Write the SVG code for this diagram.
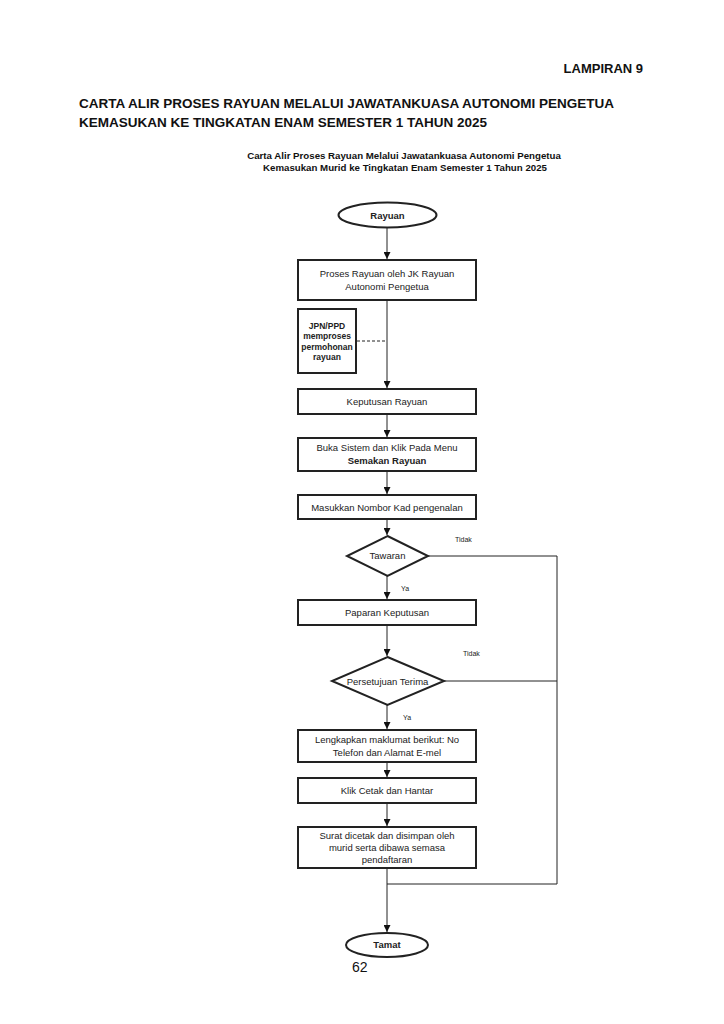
<svg xmlns="http://www.w3.org/2000/svg" width="724" height="1024" viewBox="0 0 724 1024">
<defs>
<marker id="arr" viewBox="0 0 10 10" refX="10" refY="5" markerWidth="7" markerHeight="7" orient="auto" markerUnits="userSpaceOnUse">
<path d="M0,0 L10,5 L0,10 z" fill="#111"/>
</marker>
<style>
.hd{font-family:"Liberation Sans",Arial,sans-serif;font-weight:bold;fill:#111;}
.t{font-family:"Liberation Sans",Arial,sans-serif;font-size:9.5px;fill:#222;text-anchor:middle;}
.s{font-size:8.5px;font-weight:bold;}
.b{font-weight:bold;}
.box{fill:#fff;stroke:#222;stroke-width:2;}
.c{fill:none;stroke:#222;stroke-width:1;}
.lbl{font-family:"Liberation Sans",Arial,sans-serif;font-size:7px;fill:#222;}
</style>
</defs>
<rect width="724" height="1024" fill="#fff"/>
<text class="hd" x="643" y="73" font-size="13" text-anchor="end">LAMPIRAN 9</text>
<text class="hd" x="79" y="108" font-size="13.5">CARTA ALIR PROSES RAYUAN MELALUI JAWATANKUASA AUTONOMI PENGETUA</text>
<text class="hd" x="79" y="127" font-size="13.5">KEMASUKAN KE TINGKATAN ENAM SEMESTER 1 TAHUN 2025</text>
<text class="hd" x="404" y="159" font-size="9.7" text-anchor="middle">Carta Alir Proses Rayuan Melalui Jawatankuasa Autonomi Pengetua</text>
<text class="hd" x="405" y="171" font-size="9.7" text-anchor="middle">Kemasukan Murid ke Tingkatan Enam Semester 1 Tahun 2025</text>

<g id="connectors">
<line class="c" x1="387" y1="227" x2="387" y2="259" marker-end="url(#arr)"/>
<line class="c" x1="387" y1="301" x2="387" y2="388" marker-end="url(#arr)"/>
<line class="c" x1="357" y1="341" x2="387" y2="341" stroke-dasharray="3,2"/>
<line class="c" x1="387" y1="414" x2="387" y2="437" marker-end="url(#arr)"/>
<line class="c" x1="387" y1="471" x2="387" y2="494" marker-end="url(#arr)"/>
<line class="c" x1="387" y1="519" x2="387" y2="535" marker-end="url(#arr)"/>
<line class="c" x1="387" y1="576" x2="387" y2="599" marker-end="url(#arr)"/>
<line class="c" x1="387" y1="625" x2="387" y2="656" marker-end="url(#arr)"/>
<line class="c" x1="387" y1="705" x2="387" y2="729" marker-end="url(#arr)"/>
<line class="c" x1="387" y1="762" x2="387" y2="777" marker-end="url(#arr)"/>
<line class="c" x1="387" y1="803" x2="387" y2="826" marker-end="url(#arr)"/>
<line class="c" x1="387" y1="868" x2="387" y2="932" marker-end="url(#arr)"/>
<polyline class="c" points="428,556 557,556 557,884 387,884"/>
<line class="c" x1="444" y1="681" x2="557" y2="681"/>
<text class="lbl" x="455" y="542">Tidak</text>
<text class="lbl" x="401" y="591">Ya</text>
<text class="lbl" x="463" y="656">Tidak</text>
<text class="lbl" x="403" y="720">Ya</text>
</g>

<g id="start">
<ellipse cx="387.5" cy="215" rx="49" ry="12.5" class="box"/>
<text class="t b" x="387.5" y="219">Rayuan</text>
</g>
<g id="proses">
<rect x="298" y="260" width="178" height="40" class="box"/>
<text class="t" x="387" y="277">Proses Rayuan oleh JK Rayuan</text>
<text class="t" x="387" y="290">Autonomi Pengetua</text>
</g>
<g id="jpn">
<rect x="298" y="309" width="58" height="64" class="box"/>
<text class="t s" x="327" y="329">JPN/PPD</text>
<text class="t s" x="327" y="339">memproses</text>
<text class="t s" x="327" y="350">permohonan</text>
<text class="t s" x="327" y="360">rayuan</text>
</g>
<g id="keputusan">
<rect x="298" y="389" width="178" height="25" class="box"/>
<text class="t" x="387" y="405">Keputusan Rayuan</text>
</g>
<g id="buka">
<rect x="298" y="438" width="178" height="33" class="box"/>
<text class="t" x="387" y="451">Buka Sistem dan Klik Pada Menu</text>
<text class="t b" x="387" y="464">Semakan Rayuan</text>
</g>
<g id="masukkan">
<rect x="298" y="495" width="178" height="24" class="box"/>
<text class="t" x="387" y="511">Masukkan Nombor Kad pengenalan</text>
</g>
<g id="tawaran">
<polygon points="387.5,536 428,556 387.5,576 347,556" class="box"/>
<text class="t" x="387.5" y="559">Tawaran</text>
</g>
<g id="paparan">
<rect x="298" y="600" width="178" height="25" class="box"/>
<text class="t" x="387" y="616">Paparan Keputusan</text>
</g>
<g id="persetujuan">
<polygon points="387.5,657 444,681 387.5,705 332,681" class="box"/>
<text class="t" x="387.5" y="685">Persetujuan Terima</text>
</g>
<g id="lengkapkan">
<rect x="298" y="730" width="178" height="32" class="box"/>
<text class="t" x="387" y="743">Lengkapkan maklumat berikut: No</text>
<text class="t" x="387" y="756">Telefon dan Alamat E-mel</text>
</g>
<g id="klik">
<rect x="298" y="778" width="178" height="25" class="box"/>
<text class="t" x="387" y="794">Klik Cetak dan Hantar</text>
</g>
<g id="surat">
<rect x="298" y="827" width="178" height="41" class="box"/>
<text class="t" x="387" y="839">Surat dicetak dan disimpan oleh</text>
<text class="t" x="387" y="851">murid serta dibawa semasa</text>
<text class="t" x="387" y="863">pendaftaran</text>
</g>
<g id="tamat">
<ellipse cx="387" cy="945" rx="41" ry="12" class="box"/>
<text class="t b" x="387" y="948">Tamat</text>
</g>
<text x="352" y="972" font-family="Liberation Sans, Arial, sans-serif" font-size="14" fill="#111">62</text>
</svg>
